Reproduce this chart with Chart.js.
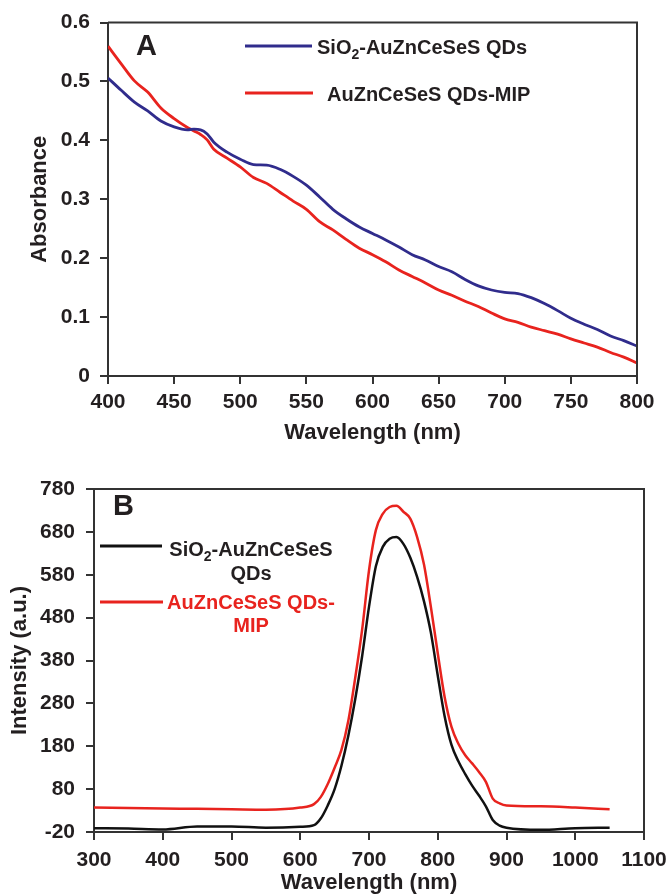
<!DOCTYPE html>
<html>
<head>
<meta charset="utf-8">
<script src="https://cdn.jsdelivr.net/npm/chart.js@4.4.0/dist/chart.umd.min.js"></script>
<style>
  html, body { margin: 0; padding: 0; background: #fff; }
  #wrapA { position: absolute; left: 0; top: 0; width: 670px; height: 455px; }
  #wrapB { position: absolute; left: 0; top: 455px; width: 670px; height: 439px; }
</style>
</head>
<body>
<div id="wrapA"><canvas id="chartA" width="670" height="455"></canvas></div>
<div id="wrapB"><canvas id="chartB" width="670" height="439"></canvas></div>
<script>
'use strict';

// ── Panel A: absorbance ──────────────────
const wlA = [400, 410, 420, 430, 440, 450, 460, 465, 470, 475, 480, 490, 500, 510, 520, 530, 540, 550,
             560, 570, 580, 590, 600, 610, 620, 630, 640, 650, 660, 670, 680, 690, 700, 710, 720, 730,
             740, 750, 760, 770, 780, 790, 800];
const absSiO2 = [0.506, 0.485, 0.465, 0.450, 0.433, 0.423, 0.418, 0.419, 0.418, 0.411, 0.397, 0.380, 0.368,
                 0.359, 0.358, 0.351, 0.339, 0.324, 0.304, 0.283, 0.267, 0.253, 0.242, 0.231, 0.219, 0.206,
                 0.197, 0.186, 0.177, 0.164, 0.153, 0.146, 0.142, 0.140, 0.133, 0.123, 0.111, 0.098, 0.088,
                 0.079, 0.068, 0.060, 0.051];
const absMIP = [0.560, 0.530, 0.501, 0.482, 0.455, 0.437, 0.422, 0.416, 0.410, 0.401, 0.385, 0.370, 0.355,
                0.337, 0.327, 0.312, 0.297, 0.283, 0.262, 0.248, 0.232, 0.217, 0.206, 0.194, 0.180, 0.169,
                0.158, 0.146, 0.137, 0.127, 0.118, 0.107, 0.097, 0.091, 0.083, 0.077, 0.071, 0.063, 0.056,
                0.049, 0.040, 0.032, 0.022];
const xTicksA = [400, 450, 500, 550, 600, 650, 700, 750, 800];
const yTicksA = [0, 0.1, 0.2, 0.3, 0.4, 0.5, 0.6];

// ── Panel B: fluorescence ──────────────────
const wlB = [300, 350, 400, 450, 500, 550, 600, 620, 630, 640, 650, 660, 670, 680, 690, 700, 710, 720, 730,
             740, 750, 760, 770, 780, 790, 800, 810, 820, 830, 840, 850, 860, 870, 880, 890, 900, 950, 1000, 1050];
const intSiO2 = [-11, -12, -14, -7, -7, -10, -8, -4, 12, 42, 80, 135, 205, 290, 390, 505, 600, 645, 664,
                 668, 652, 620, 575, 518, 445, 345, 250, 183, 145, 115, 88, 65, 40, 8, -5, -10, -15, -11, -10];
const intMIP = [37, 36, 35, 34, 33, 32, 37, 45, 62, 92, 130, 172, 240, 340, 452, 590, 684, 722, 738,
                741, 727, 711, 668, 604, 505, 397, 295, 225, 186, 159, 140, 120, 97, 58, 47, 42, 40, 37, 33];
const xTicksB = [300, 400, 500, 600, 700, 800, 900, 1000, 1100];
const yTicksB = [-20, 80, 180, 280, 380, 480, 580, 680, 780];

const INK  = '#231f20';
const AXIS = '#333333';
const BLUE = '#302c8c';
const RED  = '#e8231e';
const FONT = "'Liberation Sans', Arial, sans-serif";

const pts = (xs, ys) => xs.map((x, i) => ({ x: x, y: ys[i] }));

// draws text parts, '2' parts as subscript
function drawParts(ctx, parts, x, y, align, size, color) {
  const big = 'bold ' + size + 'px ' + FONT;
  const small = 'bold ' + Math.round(size * 0.68) + 'px ' + FONT;
  let w = 0;
  parts.forEach(p => { ctx.font = p.sub ? small : big; w += ctx.measureText(p.t).width; });
  let cx = align === 'center' ? x - w / 2 : x;
  ctx.fillStyle = color;
  ctx.textAlign = 'left';
  ctx.textBaseline = 'alphabetic';
  parts.forEach(p => {
    ctx.font = p.sub ? small : big;
    ctx.fillText(p.t, cx, p.sub ? y + size * 0.25 : y);
    cx += ctx.measureText(p.t).width;
  });
}

function seg(ctx, x1, x2, y, color) {
  ctx.save();
  ctx.strokeStyle = color; ctx.lineWidth = 3;
  ctx.beginPath(); ctx.moveTo(x1, y); ctx.lineTo(x2, y); ctx.stroke();
  ctx.restore();
}

const framePlugin = {
  id: 'frame',
  afterDraw(chart) {
    const { ctx, chartArea: a } = chart;
    ctx.save();
    ctx.strokeStyle = AXIS; ctx.lineWidth = 2;
    ctx.beginPath();
    ctx.moveTo(a.left, a.top); ctx.lineTo(a.right, a.top); ctx.lineTo(a.right, a.bottom);
    ctx.stroke();
    ctx.restore();
  }
};

const legendA = {
  id: 'legendA',
  afterDraw(chart) {
    const ctx = chart.ctx;
    ctx.save();
    drawParts(ctx, [{ t: 'A' }], 136, 55, 'left', 29, INK);
    seg(ctx, 245, 312, 46, BLUE);
    drawParts(ctx, [{ t: 'SiO' }, { t: '2', sub: true }, { t: '-AuZnCeSeS QDs' }], 317, 53.5, 'left', 20, INK);
    seg(ctx, 245, 313, 93, RED);
    drawParts(ctx, [{ t: 'AuZnCeSeS QDs-MIP' }], 327, 100.5, 'left', 20, INK);
    ctx.restore();
  }
};

const legendB = {
  id: 'legendB',
  afterDraw(chart) {
    const ctx = chart.ctx;
    ctx.save();
    drawParts(ctx, [{ t: 'B' }], 113, 60, 'left', 29, INK);
    seg(ctx, 100, 162, 91, '#111111');
    drawParts(ctx, [{ t: 'SiO' }, { t: '2', sub: true }, { t: '-AuZnCeSeS' }], 251, 100.5, 'center', 20, INK);
    drawParts(ctx, [{ t: 'QDs' }], 251, 125, 'center', 20, INK);
    seg(ctx, 100, 163, 147, RED);
    drawParts(ctx, [{ t: 'AuZnCeSeS QDs-' }], 251, 154, 'center', 20, RED);
    drawParts(ctx, [{ t: 'MIP' }], 251, 177, 'center', 20, RED);
    ctx.restore();
  }
};

const tickFont = { family: FONT, size: 21, weight: 'bold' };

function axis(ticks, opts) {
  return Object.assign({
    type: 'linear',
    min: ticks[0], max: ticks[ticks.length - 1],
    afterBuildTicks: s => { s.ticks = ticks.map(v => ({ value: v })); },
    border: { display: true, color: AXIS, width: 2 },
    grid: { display: true, drawOnChartArea: false, drawTicks: true, tickLength: 8, color: AXIS, lineWidth: 2 },
    ticks: { color: INK, padding: 6, maxRotation: 0, font: tickFont, callback: v => String(v) }
  }, opts);
}

function titleOpts(text, pad) {
  return { display: true, text: text, color: INK, padding: pad,
           font: { family: FONT, size: 22, weight: 'bold' } };
}

// fixed box size for an axis; let the layout padding decide the plot edges
function fixX(h) {
  return s => { s.height = h; s.paddingLeft = 0; s.paddingRight = 0; };
}

Chart.defaults.font.family = FONT;

// ── Chart A ──────────────────
new Chart(document.getElementById('chartA').getContext('2d'), {
  type: 'line',
  data: {
    datasets: [
      { data: pts(wlA, absSiO2), borderColor: BLUE, borderWidth: 2.8, pointRadius: 0, fill: false,
        cubicInterpolationMode: 'monotone' },
      { data: pts(wlA, absMIP), borderColor: RED, borderWidth: 2.8, pointRadius: 0, fill: false,
        cubicInterpolationMode: 'monotone' }
    ]
  },
  options: {
    responsive: false, animation: false, devicePixelRatio: 1,
    layout: { padding: { left: 0, right: 33, top: 22, bottom: 0 } },
    plugins: { legend: { display: false }, tooltip: { enabled: false } },
    scales: {
      x: axis(xTicksA, {
        afterFit: fixX(79),
        title: titleOpts('Wavelength (nm)', { top: 0, bottom: 9 })
      }),
      y: axis(yTicksA, {
        afterFit: s => { s.width = 108; },
        ticks: { color: INK, padding: 10, font: tickFont, callback: v => String(v) },
        title: titleOpts('Absorbance', { top: 27, bottom: 0 })
      })
    }
  },
  plugins: [framePlugin, legendA]
});

// ── Chart B ──────────────────
new Chart(document.getElementById('chartB').getContext('2d'), {
  type: 'line',
  data: {
    datasets: [
      { data: pts(wlB, intSiO2), borderColor: '#111111', borderWidth: 2.5, pointRadius: 0, fill: false,
        cubicInterpolationMode: 'monotone' },
      { data: pts(wlB, intMIP), borderColor: RED, borderWidth: 2.5, pointRadius: 0, fill: false,
        cubicInterpolationMode: 'monotone' }
    ]
  },
  options: {
    responsive: false, animation: false, devicePixelRatio: 1,
    layout: { padding: { left: 0, right: 26, top: 34, bottom: 0 } },
    plugins: { legend: { display: false }, tooltip: { enabled: false } },
    scales: {
      x: axis(xTicksB, {
        afterFit: fixX(62),
        ticks: { color: INK, padding: 8, maxRotation: 0, font: tickFont, callback: v => String(v) },
        title: titleOpts('Wavelength (nm)', { top: 0, bottom: -2 })
      }),
      y: axis(yTicksB, {
        afterFit: s => { s.width = 94; },
        ticks: { color: INK, padding: 11, font: tickFont, callback: v => String(v) },
        title: titleOpts('Intensity (a.u.)', { top: 7, bottom: 0 })
      })
    }
  },
  plugins: [framePlugin, legendB]
});
</script>
</body>
</html>
